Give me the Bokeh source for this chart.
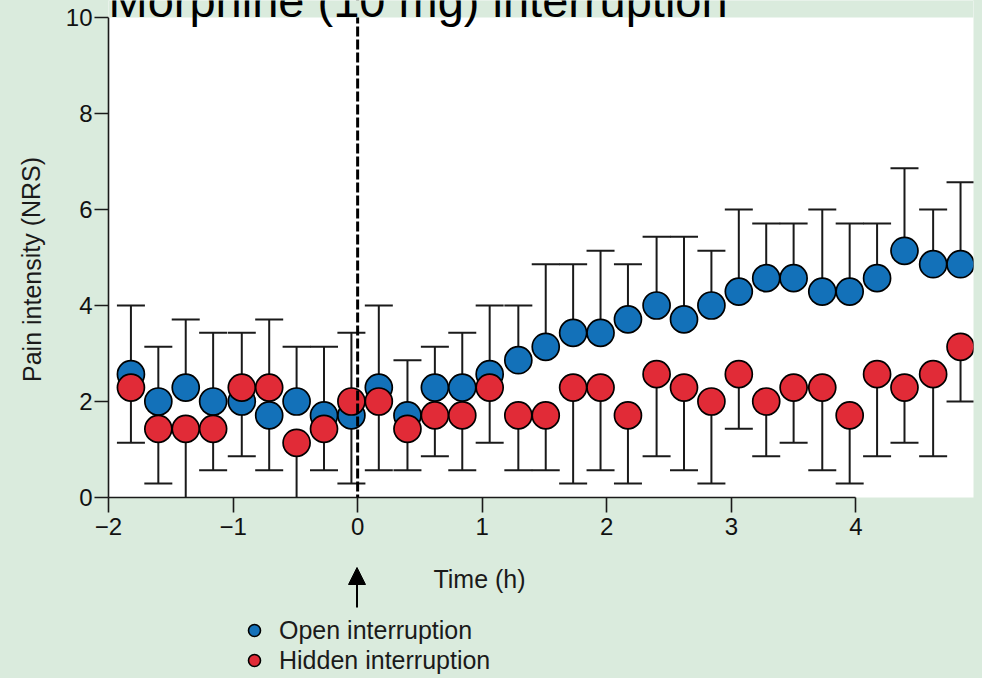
from bokeh.plotting import figure
from bokeh.layouts import column, row
from bokeh.models import (Range1d, FixedTicker, Span, Label, Arrow, NormalHead,
                          Legend, LegendItem, BoxAnnotation)
from bokeh.embed import file_html
from bokeh.resources import INLINE

# ---------------- data ----------------
times = [-1.82, -1.60, -1.38, -1.16, -0.93, -0.71, -0.49, -0.27, -0.05, 0.17,
         0.40, 0.62, 0.84, 1.06, 1.29, 1.51, 1.73, 1.95, 2.17, 2.40,
         2.62, 2.84, 3.06, 3.28, 3.50, 3.73, 3.95, 4.17, 4.39, 4.62, 4.84]

open_mean = [2.57, 2.00, 2.29, 2.00, 2.00, 1.71, 2.00, 1.71, 1.71, 2.29,
             1.71, 2.29, 2.29, 2.57, 2.86, 3.14, 3.43, 3.43, 3.71, 4.00,
             3.71, 4.00, 4.29, 4.57, 4.57, 4.29, 4.29, 4.57, 5.14, 4.86, 4.86]
open_upper = [4.00, 3.14, 3.71, 3.43, 3.43, 3.71, 3.14, 3.14, 3.43, 4.00,
              2.86, 3.14, 3.43, 4.00, 4.00, 4.86, 4.86, 5.14, 4.86, 5.43,
              5.43, 5.14, 6.00, 5.71, 5.71, 6.00, 5.71, 5.71, 6.86, 6.00, 6.57]

hidden_mean = [2.29, 1.43, 1.43, 1.43, 2.29, 2.29, 1.14, 1.43, 2.00, 2.00,
               1.43, 1.71, 1.71, 2.29, 1.71, 1.71, 2.29, 2.29, 1.71, 2.57,
               2.29, 2.00, 2.57, 2.00, 2.29, 2.29, 1.71, 2.57, 2.29, 2.57, 3.14]
hidden_lower = [1.14, 0.29, -0.20, 0.57, 0.86, 0.57, -0.20, 0.57, 0.29, 0.57,
                0.57, 0.86, 0.57, 1.14, 0.57, 0.57, 0.29, 0.57, 0.29, 0.86,
                0.57, 0.29, 1.43, 0.86, 1.14, 0.57, 0.29, 0.86, 1.14, 0.86, 2.00]

x_ticks = [-2, -1, 0, 1, 2, 3, 4]
y_ticks = [0, 2, 4, 6, 8, 10]
x_tick_text = {-2: "\u22122", -1: "\u22121"}
interruption_time = 0

title_text = "Morphine (10 mg) interruption"
x_label = "Time (h)"
y_label = "Pain intensity (NRS)"
series_names = ["Open interruption", "Hidden interruption"]

# ---------------- styling / layout ----------------
BG = "#daebdd"
BLUE = "#1371b9"
RED = "#e12b37"
INK = "#1a1a1a"
FONT = "Liberation Sans"

W, H = 982, 678
LEFT_W = 62            # strip holding the y-axis title
MAIN_H = 547           # chart incl. x tick labels
FOOT_H = H - MAIN_H    # strip with arrow, x title and legend
FRAME_L, FRAME_R, FRAME_T, FRAME_B = 105, 973, 17, 497
X0, X1 = -2.0, -2.0 + (FRAME_R - FRAME_L) / 125.0
PX_PER_Y = (FRAME_B - FRAME_T) / 10.0
Y_TOP = FRAME_B / PX_PER_Y   # frame reaches the top edge of the page


def bare(width, height, xr, yr):
    f = figure(width=width, height=height, output_backend="svg",
               toolbar_location=None, title=None,
               x_axis_type=None, y_axis_type=None,
               x_range=Range1d(*xr), y_range=Range1d(*yr),
               min_border_left=0, min_border_right=0,
               min_border_top=0, min_border_bottom=0)
    f.background_fill_color = BG
    f.border_fill_color = BG
    f.outline_line_color = None
    f.xgrid.visible = False
    f.ygrid.visible = False
    return f


# ---- main chart ----
p = figure(width=W - LEFT_W, height=MAIN_H, output_backend="svg",
           toolbar_location=None, title=None,
           x_range=Range1d(X0, X1), y_range=Range1d(0, Y_TOP),
           min_border_left=FRAME_L - LEFT_W, min_border_right=W - FRAME_R,
           min_border_top=0, min_border_bottom=MAIN_H - FRAME_B)
p.background_fill_color = "white"
p.border_fill_color = BG
p.outline_line_color = None
p.xgrid.visible = False
p.ygrid.visible = False

for ax in (p.xaxis[0], p.yaxis[0]):
    ax.axis_line_color = INK
    ax.axis_line_width = 1.6
    ax.major_tick_line_color = INK
    ax.major_tick_line_width = 1.6
    ax.minor_tick_line_color = None
    ax.major_tick_in = 0
    ax.major_label_text_font = FONT
    ax.major_label_text_font_size = "24px"
    ax.major_label_text_color = "#111111"

p.xaxis.ticker = FixedTicker(ticks=x_ticks)
p.xaxis.bounds = (-2, 4)
p.xaxis.major_tick_out = 15
p.xaxis.major_label_standoff = 5
p.xaxis.major_label_overrides = x_tick_text

p.yaxis.ticker = FixedTicker(ticks=y_ticks)
p.yaxis.bounds = (0, 10)
p.yaxis.major_tick_out = 14
p.yaxis.major_label_standoff = 2

# dashed line at interruption time
p.add_layout(Span(location=interruption_time, dimension="height",
                  line_color="black", line_width=3, line_dash="10 3"))

# error bars
p.segment(x0=times, y0=open_mean, x1=times, y1=open_upper,
          line_color=INK, line_width=2)
p.scatter(times, open_upper, marker="dash", size=28,
          line_color=INK, line_width=2)
p.segment(x0=times, y0=hidden_lower, x1=times, y1=hidden_mean,
          line_color=INK, line_width=2)
p.scatter(times, hidden_lower, marker="dash", size=28,
          line_color=INK, line_width=2)

# markers
p.scatter(times, open_mean, marker="circle", size=27,
          fill_color=BLUE, line_color="black", line_width=1.7)
p.scatter(times, hidden_mean, marker="circle", size=27,
          fill_color=RED, line_color="black", line_width=1.7)

# green strip above the value 10 (page background above the plot box)
p.add_layout(BoxAnnotation(bottom=10, fill_color=BG, fill_alpha=1.0,
                           line_color=None))
# title, cut at the top of the page as in the reference
p.add_layout(Label(x=X0, y=10 - 1.0 / PX_PER_Y, y_offset=18, text=title_text,
                   text_font=FONT, text_font_size="47px", text_color="black",
                   text_baseline="alphabetic", text_align="left"))

# ---- left strip: y-axis title ----
left = bare(LEFT_W, MAIN_H, (0, LEFT_W), (0, MAIN_H))
left.add_layout(Label(x=31, y=MAIN_H - 296, text=y_label, text_font=FONT,
                      text_font_size="25px", text_color=INK, angle=1.5708,
                      text_align="center", text_baseline="middle"))

# ---- foot strip: arrow, x-axis title and legend ----
foot = bare(W, FOOT_H, (0, W), (0, FOOT_H))
x_zero_px = FRAME_L + (interruption_time - X0) * 125.0 + 1.5
foot.add_layout(Arrow(end=NormalHead(size=17, fill_color="black", line_color="black"),
                      x_start=x_zero_px, y_start=H - 607,
                      x_end=x_zero_px, y_end=H - 567,
                      line_color="black", line_width=2))
foot.add_layout(Label(x=479, y=H - 578, text=x_label, text_font=FONT,
                      text_font_size="25px", text_color=INK,
                      text_align="center", text_baseline="middle"))

# legend swatches: proxy renderers whose single point lies outside the strip
proxy_open = foot.scatter(x=[-50], y=[-50], marker="circle", fill_color=BLUE,
                          line_color="black", line_width=1.6)
proxy_hidden = foot.scatter(x=[-50], y=[-50], marker="circle", fill_color=RED,
                            line_color="black", line_width=1.6)
legend = Legend(items=[LegendItem(label=series_names[0], renderers=[proxy_open]),
                       LegendItem(label=series_names[1], renderers=[proxy_hidden])],
                location=(238, 3), padding=0, margin=0, spacing=0,
                glyph_width=32, glyph_height=30, label_standoff=9,
                label_height=30,
                label_text_font=FONT, label_text_font_size="25px",
                label_text_color=INK,
                background_fill_alpha=0, border_line_alpha=0)
foot.add_layout(legend, "center")

bg_style = {"background-color": BG}
layout = column(row(left, p, spacing=0, styles=bg_style), foot,
                spacing=0, styles=bg_style)
open("out.html", "w").write(file_html(layout, INLINE))
